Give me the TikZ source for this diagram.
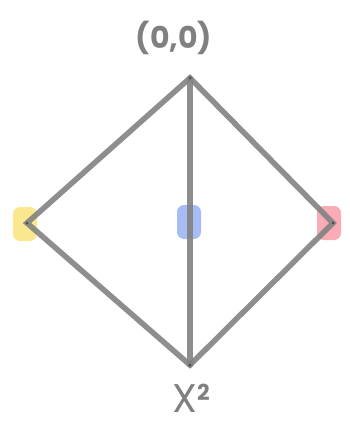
\documentclass[tikz,border=0pt]{standalone}
\usepackage{fontspec}
\setmainfont{Poppins}
\usepackage{xcolor}
\usetikzlibrary{positioning}
\definecolor{edgegray}{RGB}{130,130,130}
\definecolor{labelgray}{RGB}{128,128,128}
\definecolor{softyellow}{RGB}{250,232,145}
\definecolor{softblue}{RGB}{165,188,245}
\definecolor{softred}{RGB}{250,172,182}

\begin{document}
\begin{tikzpicture}[
  x=1pt,y=-1pt,
  blob/.style={rounded corners=7pt,minimum width=24pt,minimum height=34pt,
    inner sep=0pt},
  edge/.style={draw=edgegray,line width=5.5pt,opacity=0.9,line cap=round},
  vdot/.style={circle,fill=black!70,inner sep=0pt,minimum size=3pt},
  lbl/.style={text=labelgray,font=\fontsize{30}{32}\selectfont\bfseries}
]
\useasboundingbox (0,0) rectangle (349,441);
% colour marks
\node[blob,fill=softyellow] (yel) at (25,224) {};
\node[blob,fill=softblue] (blu) at (189,222) {};
\node[blob,fill=softred] (red) at (329,223) {};
% vertices
\coordinate (top) at (190,78);
\coordinate (lft) at (27,223);
\coordinate (rgt) at (333,223);
\coordinate (bot) at (190,365);
\draw[edge] (top) -- (lft) -- (bot) -- (rgt) -- cycle;
\draw[edge] (top) -- (bot);
\foreach \v in {top,lft,rgt,bot}
  \node[vdot] at (\v) {};
% labels
\node[lbl] (origin) at (174,38) {(0,0)};
\node[lbl,font=\fontsize{40}{42}\selectfont] (sq) at (191,398)
  {X\raisebox{12pt}{\fontsize{22}{24}\selectfont\bfseries 2}};
\end{tikzpicture}
\end{document}
